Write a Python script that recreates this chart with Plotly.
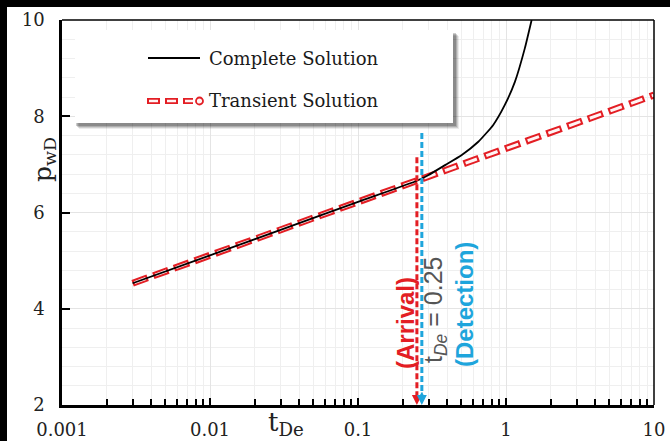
import math
import plotly.graph_objects as go

# ---- data ----
t_transient = [0.003, 0.01, 0.03, 0.1, 0.25, 1, 3, 10]
p_transient = [4.53, 5.11, 5.64, 6.22, 6.66, 7.33, 7.86, 8.44]

t_complete = [0.003, 0.01, 0.03, 0.1, 0.25, 0.3, 0.39, 0.5, 0.65, 0.82, 0.98, 1.15, 1.34, 1.49]
p_complete = [4.53, 5.11, 5.64, 6.22, 6.66, 6.78, 6.99, 7.19, 7.47, 7.82, 8.23, 8.72, 9.41, 10.0]

t_arrival = [0.25, 0.25]
p_arrival = [7.15, 2.15]
t_detection = [0.27, 0.27]
p_detection = [7.65, 2.15]

x_tickvals = [0.001, 0.01, 0.1, 1, 10]
x_ticktext = ["0.001", "0.01", "0.1", "1", "10"]
y_tickvals = [2, 4, 6, 8, 10]
y_ticktext = ["2", "4", "6", "8", "10"]

RED = "#E31E24"
BLUE = "#1EA5DC"
SERIF = "DejaVu Serif"
SANS = "Liberation Sans"

W, H = 670, 441
L, R, T, B = 62, 16, 20, 36
PW, PH = W - L - R, H - T - B


def px(X):
    return (X - L) / PW


def py(Y):
    return (H - B - Y) / PH


fig = go.Figure()
fig.add_trace(go.Scatter(x=t_transient, y=p_transient, mode="lines",
                         line=dict(color=RED, width=7, dash="16px,6px"),
                         showlegend=False, hoverinfo="skip"))
fig.add_trace(go.Scatter(x=t_transient, y=p_transient, mode="lines",
                         line=dict(color="#fff4f4", width=3, dash="0px,2px,12px,8px"),
                         showlegend=False, hoverinfo="skip"))
fig.add_trace(go.Scatter(x=t_complete, y=p_complete, mode="lines",
                         line=dict(color="black", width=1.8, shape="spline", smoothing=0.5),
                         name="Complete Solution", showlegend=False))
fig.add_trace(go.Scatter(x=t_arrival, y=p_arrival, mode="lines",
                         line=dict(color=RED, width=3, dash="6px,3px"),
                         showlegend=False, hoverinfo="skip"))
fig.add_trace(go.Scatter(x=t_detection, y=p_detection, mode="lines",
                         line=dict(color=BLUE, width=3, dash="6px,3px"),
                         showlegend=False, hoverinfo="skip"))

minor_x = [m * 10 ** e for e in range(-3, 1) for m in range(2, 10)]

fig.update_xaxes(type="log", range=[-3, 1], tickmode="array", automargin=False,
                 tickvals=x_tickvals, ticktext=x_ticktext,
                 ticks="inside", ticklen=7, tickwidth=1.5, tickcolor="black",
                 showline=True, linecolor="black", linewidth=2.5,
                 showgrid=True, gridcolor="#e4e4e4", gridwidth=1,
                 ticklabelstandoff=7,
                 tickfont=dict(family=SERIF, size=18, color="#222"),
                 minor=dict(tickmode="array", tickvals=minor_x, ticks="inside",
                            ticklen=6, tickwidth=1.5, tickcolor="black",
                            showgrid=True, gridcolor="#efefef", gridwidth=1),
                 zeroline=False)
fig.update_yaxes(range=[2, 10], tickmode="array", tickvals=y_tickvals, automargin=False,
                 ticktext=y_ticktext,
                 ticks="inside", ticklen=8, tickwidth=1.5, tickcolor="black",
                 showline=True, linecolor="black", linewidth=2.5,
                 showgrid=True, gridcolor="#e4e4e4", gridwidth=1,
                 ticklabelstandoff=11,
                 tickfont=dict(family=SERIF, size=18, color="#222"),
                 minor=dict(dtick=0.4, ticks="", showgrid=True,
                            gridcolor="#efefef", gridwidth=1),
                 zeroline=False)

shapes = []
# white page area (paper background is black -> leaves a black border at left & top)
shapes.append(dict(type="rect", xref="paper", yref="paper", layer="below",
                   x0=px(7), x1=px(W + 20), y0=py(H + 20), y1=py(7),
                   fillcolor="white", line=dict(width=0)))
# top & right frame
shapes.append(dict(type="line", xref="paper", yref="paper", x0=0, x1=1, y0=1, y1=1,
                   line=dict(color="black", width=1.5)))
shapes.append(dict(type="line", xref="paper", yref="paper", x0=1, x1=1, y0=0, y1=1,
                   line=dict(color="black", width=1.5)))
# legend box with shadow
lx0, lx1, ly0, ly1 = 75, 453, 30, 123
for off, op in [(6, 0.08), (5, 0.12), (4, 0.16), (3, 0.2)]:
    shapes.append(dict(type="rect", xref="paper", yref="paper", layer="above",
                       x0=px(lx0 + off - 2), x1=px(lx1 + off), y0=py(ly1 + off), y1=py(ly0 + off),
                       fillcolor=f"rgba(0,0,0,{op})", line=dict(width=0)))
shapes.append(dict(type="rect", xref="paper", yref="paper", layer="above",
                   x0=px(lx0), x1=px(lx1), y0=py(ly1), y1=py(ly0),
                   fillcolor="white", line=dict(width=0)))
# legend samples
shapes.append(dict(type="line", xref="paper", yref="paper", layer="above",
                   x0=px(148), x1=px(200), y0=py(58), y1=py(58),
                   line=dict(color="black", width=2)))
shapes.append(dict(type="line", xref="paper", yref="paper", layer="above",
                   x0=px(147), x1=px(193), y0=py(101), y1=py(101),
                   line=dict(color=RED, width=6, dash="13px,5px")))
shapes.append(dict(type="line", xref="paper", yref="paper", layer="above",
                   x0=px(147), x1=px(193), y0=py(101), y1=py(101),
                   line=dict(color="#fff4f4", width=2.5, dash="0px,2px,9px,7px")))
shapes.append(dict(type="circle", xref="paper", yref="paper", layer="above",
                   x0=px(196), x1=px(203), y0=py(104.5), y1=py(97.5),
                   fillcolor="#fff4f4", line=dict(color=RED, width=1.8)))
fig.update_layout(shapes=shapes)


def text_ann(X, Y, text, font, angle=0, xanchor="center"):
    return dict(xref="paper", yref="paper", x=px(X), y=py(Y), xanchor=xanchor,
                yanchor="middle", textangle=angle, showarrow=False, text=text, font=font)


ann = []
ann.append(text_ann(207, 58, "Complete Solution",
                    dict(family=SERIF, size=18, color="#1a1a1a"), xanchor="left"))
ann.append(text_ann(207, 101, "Transient Solution",
                    dict(family=SERIF, size=18, color="#1a1a1a"), xanchor="left"))
# axis titles
ann.append(text_ann(44, 160, "p<sub>wD</sub>", dict(family=SERIF, size=25, color="#222"), angle=-90))
ann.append(text_ann(286, 423, "t<sub>De</sub>", dict(family=SERIF, size=26, color="#222")))
# arrowheads
ann.append(dict(xref="x", yref="y", x=math.log10(t_arrival[1]), y=2.0, ax=0, ay=-14,
                showarrow=True, arrowhead=2, arrowsize=1, arrowwidth=2,
                arrowcolor=RED, text=""))
ann.append(dict(xref="x", yref="y", x=math.log10(t_detection[1]), y=2.0, ax=0, ay=-14,
                showarrow=True, arrowhead=2, arrowsize=1, arrowwidth=2,
                arrowcolor=BLUE, text=""))
# rotated labels
ann.append(text_ann(405, 323, "<b>(Arrival)</b>", dict(family=SANS, size=24, color=RED), angle=-90))
ann.append(text_ann(435, 310, "t<sub><i>De</i></sub> = 0.25",
                    dict(family=SANS, size=25, color="#555555"), angle=-90))
ann.append(text_ann(464, 305, "<b>(Detection)</b>", dict(family=SANS, size=24, color=BLUE), angle=-90))
fig.update_layout(annotations=ann)

fig.update_layout(width=W, height=H, margin=dict(l=L, r=R, t=T, b=B),
                  paper_bgcolor="black", plot_bgcolor="white", showlegend=False)

fig.write_html("out.html", config={"displayModeBar": False},
               post_script="document.body.style.margin='0';")
